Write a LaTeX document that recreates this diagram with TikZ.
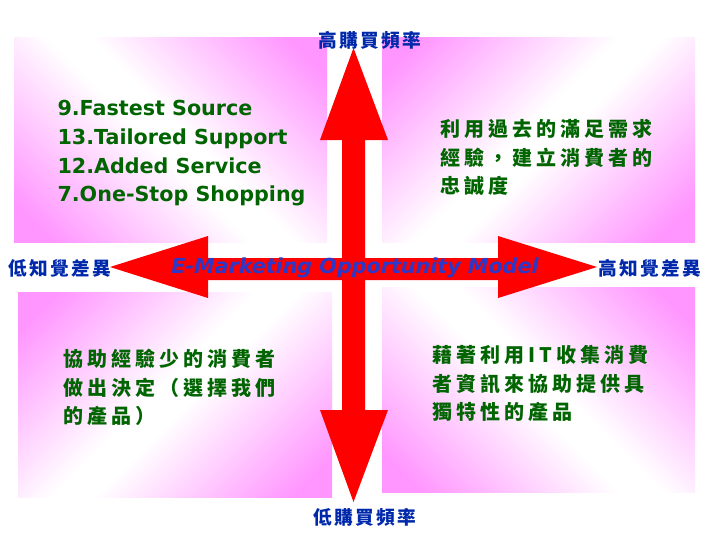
\documentclass[tikz,border=0pt]{standalone}
\usepackage{fontspec}
\newfontfamily\comicfont{DejaVu Sans}
\newfontfamily\cjk[LetterSpace=20]{Noto Sans CJK TC}
\newfontfamily\cjklabel[LetterSpace=12]{Noto Sans CJK TC}

\definecolor{quadpink}{RGB}{255,150,255}
\definecolor{textgreen}{RGB}{0,100,0}
\definecolor{labelblue}{RGB}{0,40,170}
\definecolor{titleblue}{RGB}{45,55,200}

\pgfdeclareverticalshading{quadfade}{100bp}{color(0bp)=(quadpink); color(20bp)=(quadpink); color(47bp)=(white); color(53bp)=(white); color(80bp)=(quadpink); color(100bp)=(quadpink)}

\tikzset{every picture/.style={line width=0.75pt}}
\tikzset{
  quadbox/.style={shading=quadfade, shading angle=#1},
  axislabel/.style={font=\cjklabel\bfseries\fontsize{14}{16}\selectfont, text=labelblue, inner sep=0pt},
  engtext/.style={font=\comicfont\bfseries\fontsize{15.5}{21.5}\selectfont, text=textgreen, align=left, anchor=north west, inner sep=0pt},
  chntext/.style={font=\cjk\bfseries\fontsize{15}{21.3}\selectfont, text=textgreen, align=left, anchor=north west, inner sep=0pt}
}

\begin{document}
\begin{tikzpicture}[x=0.75pt,y=0.75pt,yscale=-1,xscale=1]
	\useasboundingbox (0,0) rectangle (720,540);

	%Shape: Rectangle [id:quadTL] 
	\shade [quadbox=-45] (14,37) rectangle (327,242) ;
	%Shape: Rectangle [id:quadTR] 
	\shade [quadbox=45] (382,37) rectangle (695,242) ;
	%Shape: Rectangle [id:quadBL] 
	\shade [quadbox=45] (18,292) rectangle (332,497) ;
	%Shape: Rectangle [id:quadBR] 
	\shade [quadbox=-45] (382,287) rectangle (695,492) ;

	%Shape: Cross Arrow [id:crossarrow] 
	\fill [red] (353.5,48) -- (388,140) -- (365,140) -- (365,258) -- (498,258) -- (498,236) -- (597,267) -- (498,298) -- (498,280) -- (365,280) -- (365,410) -- (388,410) -- (353.5,502) -- (320,410) -- (342,410) -- (342,280) -- (208,280) -- (208,298) -- (110,267) -- (208,236) -- (208,258) -- (342,258) -- (342,140) -- (320,140) -- cycle ;

	% Text Node
	\draw (370,40) node [axislabel] (highfreq) {高購買頻率};
	% Text Node
	\draw (365,517) node [axislabel] (lowfreq) {低購買頻率};
	% Text Node
	\draw (60,268) node [axislabel] (lowdiff) {低知覺差異};
	% Text Node
	\draw (650,268) node [axislabel] (highdiff) {高知覺差異};
	% Text Node
	\draw (355,268) node [font=\comicfont\bfseries\itshape\fontsize{15.5}{18}\selectfont, text=titleblue, inner sep=0pt] (title) {E-Marketing Opportunity Model};
	% Text Node
	\draw (57,100) node [engtext] (strategies) {9.Fastest Source\\13.Tailored Support\\12.Added Service\\7.One-Stop Shopping};
	% Text Node
	\draw (440,119) node [chntext] (loyalty) {利用過去的滿足需求\\經驗，建立消費者的\\忠誠度};
	% Text Node
	\draw (63,349) node [chntext] (assist) {協助經驗少的消費者\\做出決定（選擇我們\\的產品）};
	% Text Node
	\draw (432,345) node [chntext] (unique) {藉著利用IT收集消費\\者資訊來協助提供具\\獨特性的產品};

\end{tikzpicture}
\end{document}
